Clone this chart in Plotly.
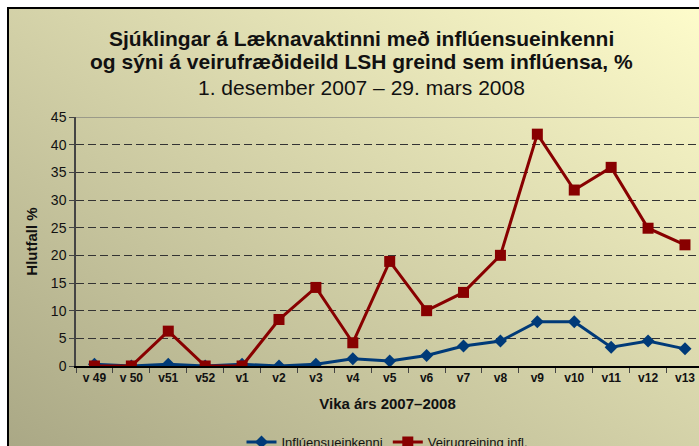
import base64
import plotly.graph_objects as go

weeks = ["v 49", "v 50", "v51", "v52", "v1", "v2", "v3", "v4", "v5", "v6",
         "v7", "v8", "v9", "v10", "v11", "v12", "v13"]
influensueinkenni = [0.3, 0.0, 0.3, 0.0, 0.3, 0.0, 0.3, 1.3, 0.9, 1.9,
                     3.6, 4.5, 8.0, 8.0, 3.4, 4.5, 3.1]
veirugreining = [0.0, 0.0, 6.3, 0.0, 0.0, 8.4, 14.2, 4.2, 18.9, 10.0,
                 13.3, 20.0, 41.9, 31.8, 35.9, 24.9, 21.9]
y_ticks = [0, 5, 10, 15, 20, 25, 30, 35, 40, 45]
title_lines = ["<b>Sjúklingar á Læknavaktinni með inflúensueinkenni</b>",
               "<b>og sýni á veirufræðideild LSH greind sem inflúensa, %</b>",
               "1. desember 2007 – 29. mars 2008"]

W, H = 699, 446
L, R, T, B = 76, 0, 117, 80
pw, ph = W - L - R, H - T - B

def px_x(p):
    return (p - L) / pw

def px_y(p):
    return (H - B - p) / ph

svg = ('<svg xmlns="http://www.w3.org/2000/svg" width="100" height="100" '
       'preserveAspectRatio="none"><defs><linearGradient id="g" x1="0" y1="1" x2="1" y2="0">'
       '<stop offset="0" stop-color="#a8a684"/><stop offset="1" stop-color="#fffdcc"/>'
       '</linearGradient></defs><rect width="100" height="100" fill="url(#g)"/></svg>')
bg_src = "data:image/svg+xml;base64," + base64.b64encode(svg.encode()).decode()

font = "Arial, 'Liberation Sans', sans-serif"

fig = go.Figure()
fig.add_trace(go.Scatter(
    x=weeks, y=influensueinkenni, name="Inflúensueinkenni",
    mode="lines+markers",
    line=dict(color="#003a78", width=3),
    marker=dict(symbol="diamond", size=10, color="#003a78"),
))
fig.add_trace(go.Scatter(
    x=weeks, y=veirugreining, name="Veirugreining infl.",
    mode="lines+markers",
    line=dict(color="#880000", width=3),
    marker=dict(symbol="square", size=11, color="#880000"),
))

title_y = [38, 62, 87]
annotations = [dict(
    xref="paper", yref="paper", x=px_x(361), y=px_y(yy), xanchor="center", yanchor="middle",
    showarrow=False, text=t, font=dict(size=21, color="#111"),
) for t, yy in zip(title_lines, title_y)]

fig.update_layout(
    width=W, height=H,
    margin=dict(l=L, r=R, t=T, b=B, autoexpand=False),
    paper_bgcolor="white",
    plot_bgcolor="rgba(0,0,0,0)",
    font=dict(family=font, color="black"),
    showlegend=True,
    legend=dict(orientation="h", x=0.5, xanchor="center",
                yref="container", y=(H - 427) / H, yanchor="top",
                font=dict(size=13, color="#111"), bgcolor="rgba(0,0,0,0)",
                itemwidth=30, tracegroupgap=0),
    images=[dict(source=bg_src, xref="paper", yref="paper",
                 x=px_x(8), y=px_y(8), sizex=(W + 20 - 8) / pw, sizey=(H + 20 - 8) / ph,
                 xanchor="left", yanchor="top", sizing="stretch", layer="below")],
    shapes=[
        dict(type="rect", xref="paper", yref="paper",
             x0=px_x(8), x1=px_x(W + 20), y0=px_y(H + 20), y1=px_y(8),
             line=dict(color="black", width=2), layer="above"),
        dict(type="line", xref="paper", yref="y", x0=0, x1=1, y0=45, y1=45,
             line=dict(color="#8a8a80", width=1.5), layer="below"),
    ],
    annotations=annotations,
)

fig.update_xaxes(
    type="category", range=[-0.5, 16.38], automargin=False,
    showline=True, linecolor="black", linewidth=1.5,
    ticks="outside", tickson="boundaries", ticklen=5, tickcolor="#444", tickwidth=1,
    showgrid=False, zeroline=False,
    tickfont=dict(size=12, family=font, color="#111"),
    tickprefix="<b>", ticksuffix="</b>",
    title=dict(text="<b>Vika árs 2007–2008</b>", font=dict(size=15, color="#111"), standoff=14),
)
fig.update_yaxes(
    range=[0, 45], tickvals=y_ticks, ticktext=[str(v) for v in y_ticks], automargin=False,
    showline=True, linecolor="#444", linewidth=1.5,
    ticks="outside", ticklen=5, tickcolor="#444", tickwidth=1,
    showgrid=True, gridcolor="#333", gridwidth=1, griddash="8px,4px",
    zeroline=False,
    tickfont=dict(size=14, family=font, color="#111"),
    tickprefix="<b>", ticksuffix="</b>",
    title=dict(text="<b>Hlutfall %</b>", font=dict(size=15, color="#111"), standoff=10),
)

fig.write_html("out.html", config={"displayModeBar": False},
               post_script="document.body.style.margin='0';document.body.style.overflow='hidden';")
